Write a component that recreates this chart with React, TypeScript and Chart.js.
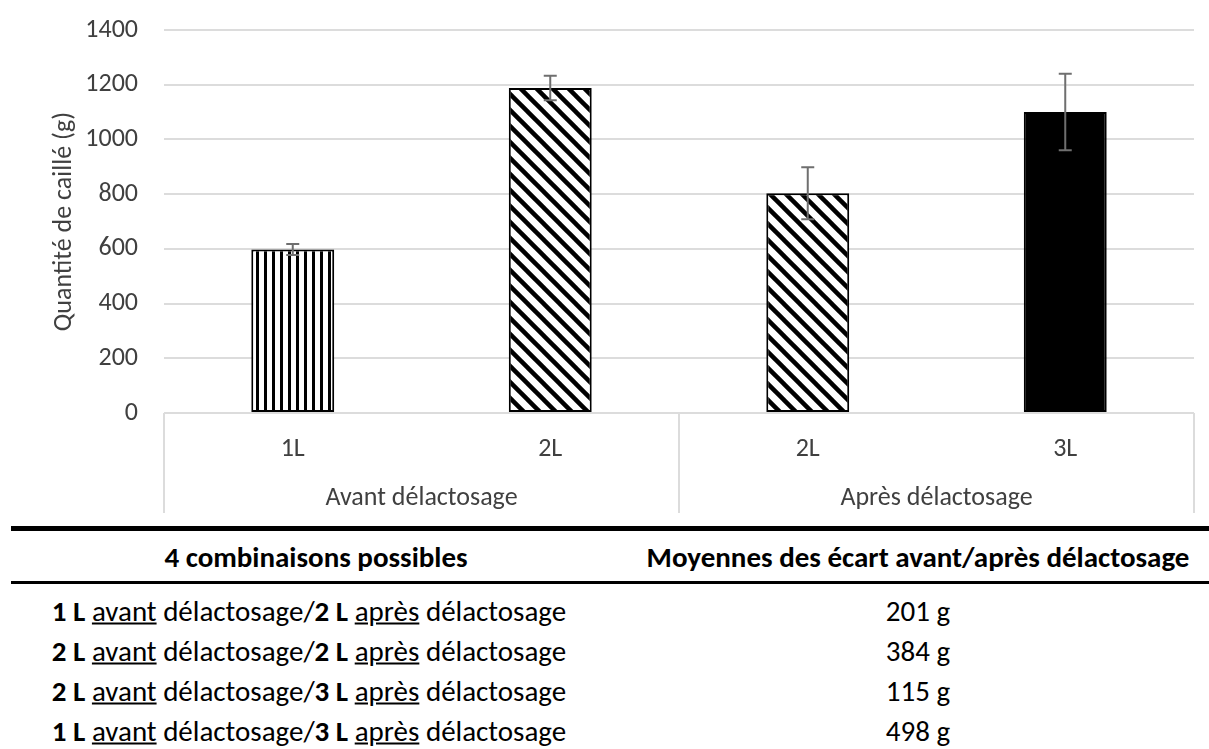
import React, { useEffect, useRef } from 'react';
import { Chart, registerables } from 'chart.js';

Chart.register(...registerables);

// ---------- data ----------
const categories = ['1L', '2L', '2L', '3L'];
const categoryGroup = [0, 0, 1, 1];
const groupLabels = ['Avant délactosage', 'Après délactosage'];
const curdValues = [598, 1188, 803, 1100];
const curdErrors = [20, 45, 95, 140];
const barFills = ['vertical', 'diagonal', 'diagonal', 'solid'];
const yTickValues = [0, 200, 400, 600, 800, 1000, 1200, 1400];
const yAxisTitle = 'Quantité de caillé (g)';

const tableHeaders = ['4 combinaisons possibles', 'Moyennes des écart avant/après délactosage'];
const litresBefore = ['1', '2', '2', '1'];
const litresAfter = ['2', '2', '3', '3'];
const meanGaps = ['201 g', '384 g', '115 g', '498 g'];

const FONT = 'Carlito, Lato, sans-serif';
const TEXT = '#404040';
const GRID = '#dcdcdc';
const CHART_FONT_SIZE = 26;

function makeFill(ctx: CanvasRenderingContext2D, kind: string): any {
  if (kind === 'solid') return '#000000';
  const c = document.createElement('canvas');
  const g = c.getContext('2d') as CanvasRenderingContext2D;
  if (kind === 'vertical') {
    c.width = 8; c.height = 8;
    g.fillStyle = '#ffffff'; g.fillRect(0, 0, 8, 8);
    g.fillStyle = '#000000'; g.fillRect(0, 0, 3, 8);
  } else {
    const s = 16;
    c.width = s; c.height = s;
    g.fillStyle = '#ffffff'; g.fillRect(0, 0, s, s);
    g.strokeStyle = '#000000'; g.lineWidth = 4.5;
    for (const k of [-s, 0, s]) {
      g.beginPath(); g.moveTo(k - 3, -3); g.lineTo(k + s + 3, s + 3); g.stroke();
    }
  }
  return ctx.createPattern(c, 'repeat');
}

const errorBarPlugin = {
  id: 'errorBars',
  afterDatasetsDraw(chart: any) {
    const meta = chart.getDatasetMeta(0);
    const y = chart.scales.y;
    const ctx = chart.ctx;
    ctx.save();
    ctx.strokeStyle = '#6f6f6f';
    ctx.lineWidth = 2;
    meta.data.forEach((bar: any, i: number) => {
      const top = y.getPixelForValue(curdValues[i] + curdErrors[i]);
      const bot = y.getPixelForValue(curdValues[i] - curdErrors[i]);
      const cap = 6.5;
      ctx.beginPath();
      ctx.moveTo(bar.x, top); ctx.lineTo(bar.x, bot);
      ctx.moveTo(bar.x - cap, top); ctx.lineTo(bar.x + cap, top);
      ctx.moveTo(bar.x - cap, bot); ctx.lineTo(bar.x + cap, bot);
      ctx.stroke();
    });
    ctx.restore();
  },
};

const groupBoxPlugin = {
  id: 'groupBox',
  afterDraw(chart: any) {
    const x = chart.scales.x;
    const x2 = chart.scales.x2;
    const ctx = chart.ctx;
    const top = chart.chartArea.bottom;
    const bottom = x2.bottom;
    const xs: number[] = [x.left, x.right];
    for (let i = 1; i < categories.length; i++) {
      if (categoryGroup[i] !== categoryGroup[i - 1]) {
        xs.push((x.getPixelForValue(i - 1) + x.getPixelForValue(i)) / 2);
      }
    }
    ctx.save();
    ctx.strokeStyle = GRID;
    ctx.lineWidth = 2;
    xs.forEach((px) => {
      ctx.beginPath(); ctx.moveTo(px, top); ctx.lineTo(px, bottom); ctx.stroke();
    });
    ctx.restore();
  },
};

function CurdChart() {
  const ref = useRef<HTMLCanvasElement>(null);
  useEffect(() => {
    const canvas = ref.current as HTMLCanvasElement;
    const ctx = canvas.getContext('2d') as CanvasRenderingContext2D;
    const font = { family: FONT, size: CHART_FONT_SIZE };
    const chart = new Chart(ctx, {
      type: 'bar',
      data: {
        labels: categories,
        datasets: [
          {
            data: curdValues,
            backgroundColor: barFills.map((k) => makeFill(ctx, k)),
            borderColor: '#000000',
            borderWidth: 2,
            borderSkipped: false,
            barPercentage: 0.322,
            categoryPercentage: 1,
          },
        ],
      },
      options: {
        responsive: false,
        animation: false,
        layout: { padding: { top: 30, right: 15, bottom: 3, left: 0 } },
        plugins: { legend: { display: false }, tooltip: { enabled: false } },
        scales: {
          x: {
            weight: 0,
            grid: { display: false, drawTicks: false },
            border: { display: false },
            ticks: { color: TEXT, font, padding: 21 },
            afterFit: (s: any) => { s.height = 50; },
          },
          x2: {
            type: 'category',
            position: 'bottom',
            weight: 1,
            labels: groupLabels,
            offset: true,
            grid: { display: false, drawTicks: false },
            border: { display: false },
            ticks: { color: TEXT, font, padding: 20 },
            afterFit: (s: any) => { s.height = 50; },
          },
          y: {
            min: 0,
            max: 1400,
            afterBuildTicks: (scale: any) => {
              scale.ticks = yTickValues.map((v) => ({ value: v }));
            },
            grid: { color: GRID, lineWidth: 2, drawTicks: false },
            border: { display: false },
            ticks: { color: TEXT, font, padding: 26, callback: (v: any) => String(v) },
            title: {
              display: true,
              text: yAxisTitle,
              color: TEXT,
              font,
              padding: { top: 49, bottom: 0 },
            },
            afterFit: (s: any) => {
              s.width = 164;
              s.paddingTop = 0;
              s.paddingBottom = 0;
            },
          },
        },
      },
      plugins: [errorBarPlugin, groupBoxPlugin],
    } as any);
    return () => chart.destroy();
  }, []);
  return <canvas ref={ref} width={1209} height={516} style={{ width: 1209, height: 516, display: 'block' }} />;
}

const rowCenters = [611, 651, 691, 731];

function ComboText({ before, after }: { before: string; after: string }) {
  return (
    <span>
      <b>{before} L</b> <u>avant</u> délactosage/<b>{after} L</b> <u>après</u> délactosage
    </span>
  );
}

export default function App() {
  const cell = (cx: number, cy: number, content: any, bold = false) => (
    <div
      style={{
        position: 'absolute',
        left: cx,
        top: cy,
        transform: 'translate(-50%, -50%)',
        whiteSpace: 'nowrap',
        fontWeight: bold ? 700 : 400,
        lineHeight: 1,
      }}
    >
      {content}
    </div>
  );
  return (
    <div
      style={{
        position: 'absolute',
        left: 0,
        top: 0,
        width: 1209,
        height: 749,
        overflow: 'hidden',
        background: '#ffffff',
        fontFamily: FONT,
        color: '#000000',
        fontSize: 29,
      }}
    >
      <div style={{ position: 'absolute', left: 0, top: 0 }}>
        <CurdChart />
      </div>
      <div style={{ position: 'absolute', left: 11, top: 526, width: 1198, height: 5, background: '#000' }} />
      {cell(316, 557, tableHeaders[0], true)}
      {cell(918, 557, tableHeaders[1], true)}
      <div style={{ position: 'absolute', left: 11, top: 581, width: 1198, height: 3, background: '#000' }} />
      {litresBefore.map((b, i) => (
        <React.Fragment key={i}>
          {cell(309, rowCenters[i], <ComboText before={b} after={litresAfter[i]} />)}
          {cell(918, rowCenters[i], meanGaps[i])}
        </React.Fragment>
      ))}
    </div>
  );
}
